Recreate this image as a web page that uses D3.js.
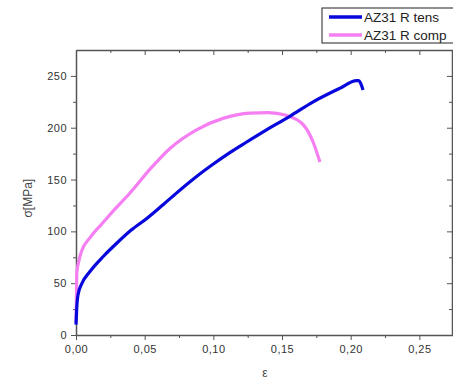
<!DOCTYPE html>
<html>
<head>
<meta charset="utf-8">
<script src="https://cdn.jsdelivr.net/npm/d3@7"></script>
<style>
  body { margin: 0; background: #fff; }
  svg { font-family: "Liberation Sans", Arial, sans-serif; }
</style>
</head>
<body>
<div id="chart"></div>
<script>
// strain / stress
var tensStrain = [0, 0.0005, 0.0015, 0.004, 0.010, 0.020, 0.030, 0.040, 0.052, 0.0636, 0.0758, 0.0878, 0.100, 0.112, 0.124, 0.1363, 0.1557, 0.1727, 0.192, 0.2043, 0.2060, 0.2075, 0.209];
var tensStress = [10, 25, 39, 49, 61, 76, 89, 101, 113, 126, 140, 153, 165, 176, 186, 196, 211, 225, 238, 245.5, 245.5, 242, 236.5];

var compStrain = [0, 0.0003, 0.0006, 0.002, 0.0041, 0.0102, 0.0187, 0.028, 0.0393, 0.0539, 0.0684, 0.0878, 0.107, 0.1266, 0.140, 0.153, 0.1654, 0.1727, 0.1776];
var compStress = [12, 35, 60, 71, 81, 94, 107, 121, 137, 160, 180, 198, 209, 214, 214.5, 212, 203, 186, 167];

var seriesNames = ["AZ31 R tens", "AZ31 R comp"];
var seriesColors = ["#0808dc", "#f57ff2"];

var xTicks = [0, 0.05, 0.10, 0.15, 0.20, 0.25];
var yTicks = [0, 50, 100, 150, 200, 250];

var W = 453, H = 380;
var margin = {top: 50, right: 0, bottom: 45, left: 76};
var width = W - margin.left - margin.right,
    height = H - margin.top - margin.bottom;

var svg = d3.select("#chart").append("svg")
    .attr("width", W)
    .attr("height", H);

var g = svg.append("g")
    .attr("transform", "translate(" + margin.left + "," + margin.top + ")");

var x = d3.scaleLinear().domain([0, 0.2745]).range([0, width]);
var y = d3.scaleLinear().domain([0, 275]).range([height, 0]);

var fmt = function(d) { return d3.format(".2f")(d).replace(".", ","); };
var axisCol = "#555";

// minor ticks
var xMinor = d3.range(0.025, 0.275, 0.05);
var yMinor = d3.range(25, 275, 50);

function styleAxis(sel) {
  sel.select(".domain").attr("stroke", axisCol).attr("stroke-width", 1.5);
  sel.selectAll(".tick line").attr("stroke", axisCol).attr("stroke-width", 1);
  sel.selectAll(".tick text").attr("fill", "#333").style("font-size", "11px").style("letter-spacing", "0.5px");
}

// bottom
var xb = g.append("g").attr("transform", "translate(0," + height + ")")
  .call(d3.axisBottom(x).tickValues(xTicks).tickFormat(fmt).tickSize(5).tickPadding(5).tickSizeOuter(0));
styleAxis(xb);
g.append("g").attr("transform", "translate(0," + height + ")")
  .call(d3.axisBottom(x).tickValues(xMinor).tickFormat("").tickSize(3).tickSizeOuter(0))
  .call(function(s) { s.select(".domain").remove(); s.selectAll("line").attr("stroke", axisCol); });

// top (inward)
var xt = g.append("g")
  .call(d3.axisBottom(x).tickValues(xTicks).tickFormat("").tickSize(5).tickSizeOuter(0));
styleAxis(xt);
g.append("g")
  .call(d3.axisBottom(x).tickValues(xMinor).tickFormat("").tickSize(3).tickSizeOuter(0))
  .call(function(s) { s.select(".domain").remove(); s.selectAll("line").attr("stroke", axisCol); });

// left
var yl = g.append("g")
  .call(d3.axisLeft(y).tickValues(yTicks).tickSize(5).tickPadding(4).tickSizeOuter(0));
styleAxis(yl);
g.append("g")
  .call(d3.axisLeft(y).tickValues(yMinor).tickFormat("").tickSize(3).tickSizeOuter(0))
  .call(function(s) { s.select(".domain").remove(); s.selectAll("line").attr("stroke", axisCol); });

// right (inward)
var yr = g.append("g").attr("transform", "translate(" + (width - 1) + ",0)")
  .call(d3.axisLeft(y).tickValues(yTicks).tickFormat("").tickSize(-5).tickSizeOuter(0));
styleAxis(yr);
yr.selectAll(".tick line").attr("x2", -5);
g.append("g").attr("transform", "translate(" + (width - 1) + ",0)")
  .call(d3.axisLeft(y).tickValues(yMinor).tickFormat("").tickSize(0).tickSizeOuter(0))
  .call(function(s) { s.select(".domain").remove(); s.selectAll("line").attr("stroke", axisCol).attr("x2", -3); });

// curves
var line = d3.line()
  .x(function(d) { return x(d[0]); })
  .y(function(d) { return y(d[1]); })
  .curve(d3.curveMonotoneX);

var comp = d3.zip(compStrain, compStress);
var tens = d3.zip(tensStrain, tensStress);

g.append("path").datum(comp)
  .attr("d", line)
  .attr("fill", "none")
  .attr("stroke", seriesColors[1])
  .attr("stroke-width", 3.2)
  .attr("stroke-linejoin", "round");

g.append("path").datum(tens)
  .attr("d", line)
  .attr("fill", "none")
  .attr("stroke", seriesColors[0])
  .attr("stroke-width", 3.2)
  .attr("stroke-linejoin", "round");

// axis labels
svg.append("text")
  .attr("transform", "translate(32," + (margin.top + y(132)) + ") rotate(-90)")
  .attr("text-anchor", "middle")
  .attr("fill", "#444")
  .style("font-size", "12px")
  .text("σ[MPa]");

svg.append("text")
  .attr("x", 265).attr("y", 377)
  .attr("text-anchor", "middle")
  .attr("fill", "#444")
  .style("font-size", "12px")
  .text("ε");

// legend
var leg = svg.append("g").attr("transform", "translate(322,8)");
leg.append("rect")
  .attr("x", 0).attr("y", 0)
  .attr("width", 140).attr("height", 35)
  .attr("fill", "#fff")
  .attr("stroke", "#222")
  .attr("stroke-width", 1);
seriesNames.forEach(function(name, i) {
  var yy = 9 + i * 18;
  leg.append("line")
    .attr("x1", 7).attr("x2", 40)
    .attr("y1", yy).attr("y2", yy)
    .attr("stroke", seriesColors[i])
    .attr("stroke-width", 3.5);
  leg.append("text")
    .attr("x", 42).attr("y", yy + 5)
    .attr("fill", "#222")
    .style("font-size", "13.5px")
    .text(name);
});
</script>
</body>
</html>
